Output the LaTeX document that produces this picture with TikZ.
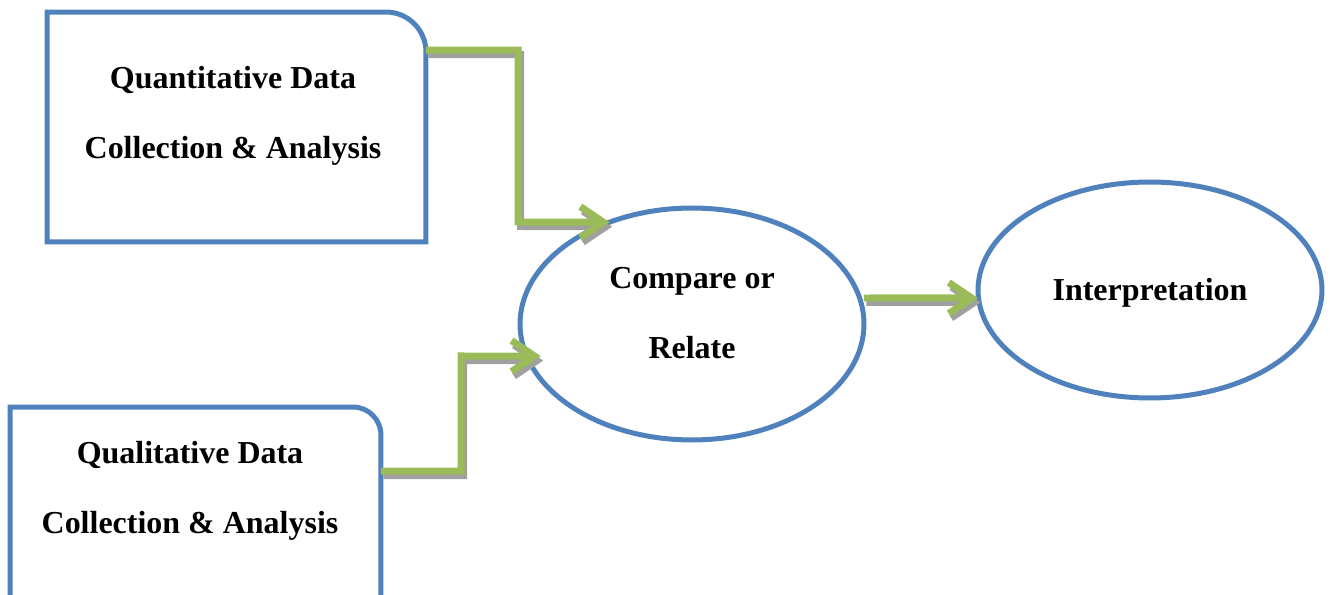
\documentclass[tikz,border=0pt]{standalone}
\usepackage{fontspec}
\setmainfont{Liberation Serif}
\usepackage{tikz}
\usetikzlibrary{arrows.meta,shapes.geometric,calc}
\definecolor{boxblue}{HTML}{4F81BD}
\definecolor{flowgreen}{HTML}{9BBB59}
\definecolor{shadegray}{HTML}{A0A0A0}

\begin{document}
\begin{tikzpicture}[x=0.02cm, y=0.02cm,
  frame/.style={draw=boxblue, line width=0.1cm},
  blob/.style={ellipse, frame, minimum width=6.88cm, inner sep=0pt, outer sep=0pt},
  plate/.style={rectangle, minimum width=7.58cm, minimum height=4.6cm, inner sep=0pt, outer sep=0pt},
  lbl/.style={align=center, font=\fontsize{18.2}{39.8}\selectfont\bfseries},
  flow/.style={line width=0.14cm, -{Straight Barb[length=0.46cm, width=0.62cm]}}]
  \useasboundingbox (0,0) rectangle (1330,595);
  \clip (0,0) rectangle (1330,595);
  % boxes, only the top right corner is rounded
  \node[plate] (quant) at (236.5,468) {};
  \node[plate, minimum width=7.42cm, minimum height=5cm] (qual) at (195.5,63) {};
  \draw[frame] (quant.south west) -- (quant.north west) -- ($(quant.north east)+(-40,0)$)
    arc[start angle=90, end angle=0, radius=0.8cm] -- (quant.south east) -- cycle;
  \draw[frame] (qual.south west) -- (qual.north west) -- ($(qual.north east)+(-28,0)$)
    arc[start angle=90, end angle=0, radius=0.56cm] -- (qual.south east) -- cycle;
  \node[blob, minimum height=4.64cm] (cmp) at (692,271) {};
  \node[blob, minimum height=4.32cm] (interp) at (1150,305) {};
  % labels
  \node[lbl] (quanttxt) at (233,479) {Quantitative Data\\Collection \& Analysis};
  \node[lbl] (qualtxt) at (190,104) {Qualitative Data\\Collection \& Analysis};
  \node[lbl] (cmptxt) at (692,282) {Compare or\\Relate};
  \node[lbl] (interptxt) at (1150,302) {Interpretation};
  % connectors, grey shadow first
  \coordinate (bendA) at (518,373);
  \coordinate (bendB) at (461,239);
  \foreach \ink/\dx/\dy in {shadegray/0.05/-0.09, flowgreen/0/0}{
    \begin{scope}[transform canvas={shift={(\dx cm,\dy cm)}}]
      \draw[flow, draw=\ink] ([yshift=-0.76cm]quant.north east) -| (bendA) -- (cmp.129);
      \draw[flow, draw=\ink] ([yshift=-1.28cm]qual.north east) -| (bendB) -- ([xshift=0.28cm]cmp.191);
      \draw[flow, draw=\ink] ([yshift=0.52cm]cmp.east) -- ([yshift=-0.16cm]interp.west);
    \end{scope}
  }
\end{tikzpicture}
\end{document}
